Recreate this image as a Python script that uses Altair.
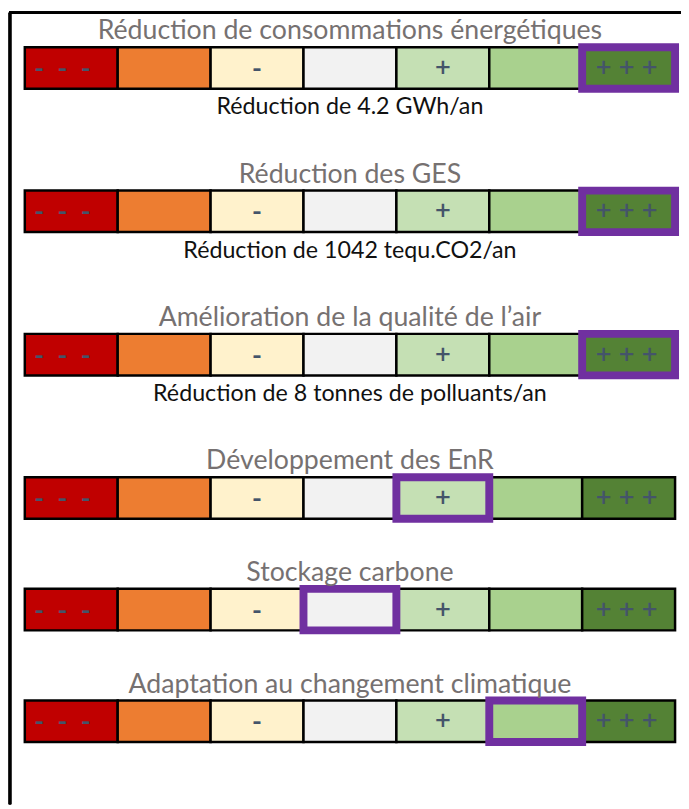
import altair as alt
import pandas as pd

# ---- data ----
criteria = [
    "Réduction de consommations énergétiques",
    "Réduction des GES",
    "Amélioration de la qualité de l’air",
    "Développement des EnR",
    "Stockage carbone",
    "Adaptation au changement climatique",
]
details = [
    "Réduction de 4.2 GWh/an",
    "Réduction de 1042 tequ.CO2/an",
    "Réduction de 8 tonnes de polluants/an",
    "",
    "",
    "",
]
# index of the selected level on the 7-step scale (0 = "- - -", 6 = "+ + +")
selected = [6, 6, 6, 4, 3, 5]
levels = ["- - -", "", "-", "", "+", "", "+ + +"]
level_colors = ["#C00000", "#ED7D31", "#FFF2CC", "#F2F2F2", "#C5E0B4", "#A9D18E", "#548235"]

# ---- layout constants (pixels) ----
FIRST_TOP = 43
BAR_H = 42
GAP_WITH_DETAIL = 145
GAP_NO_DETAIL = 113
CELL_W = 94
LEFT = 25

tops = []
t = FIRST_TOP
for i in range(len(criteria)):
    tops.append(t)
    t += GAP_WITH_DETAIL if details[i] else GAP_NO_DETAIL

cells, boxes, heads = [], [], []
for r, name in enumerate(criteria):
    top = tops[r]
    for i, lab in enumerate(levels):
        sep = "\u00a0\u00a0" if lab.startswith("-") else "\u00a0"
        cells.append({
            "row": name, "x": i, "x2": i + 1, "y": top, "y2": top + BAR_H,
            "ym": top + BAR_H / 2 + 1, "xm": i + 0.5,
            "label": lab.replace(" ", sep), "color": level_colors[i],
        })
    s = selected[r]
    boxes.append({"row": name, "x": s, "x2": s + 1, "y": top, "y2": top + BAR_H})
    heads.append({"row": name, "title": name, "detail": details[r],
                  "xm": 3.5, "ty": top - 8, "dy": top + BAR_H + 26})

cells = pd.DataFrame(cells)
boxes = pd.DataFrame(boxes)
heads = pd.DataFrame(heads)

W, H = 681, 801
xdom = [(8 - LEFT) / CELL_W, (8 + W - LEFT) / CELL_W]
xs = alt.Scale(domain=xdom, nice=False, zero=False)
ys = alt.Scale(domain=[8, 8 + H], reverse=True, nice=False, zero=False)
X = lambda f: alt.X(f, type="quantitative", scale=xs, axis=None)
Y = lambda f: alt.Y(f, type="quantitative", scale=ys, axis=None)

rects = alt.Chart(cells).mark_rect(stroke="black", strokeWidth=2.5).encode(
    x=X("x"), x2="x2", y=Y("y"), y2="y2",
    color=alt.Color("color:N", scale=None),
)

sym = alt.Chart(cells).transform_filter("datum.label != ''").mark_text(
    font="Open Sans", fontSize=28, fontWeight=600, color="#44546A", baseline="middle",
    dx=alt.expr("datum.x == 0 ? -9 : (datum.x == 6 ? -2 : 0)"),
).encode(x=X("xm"), y=Y("ym"), text="label:N")

sel = alt.Chart(boxes).mark_rect(fill=None, fillOpacity=0, stroke="#7030A0", strokeWidth=8).encode(
    x=X("x"), x2="x2", y=Y("y"), y2="y2",
)

titles = alt.Chart(heads).mark_text(
    font="Lato", fontSize=27, fontWeight=400, color="#767171", baseline="alphabetic"
).encode(x=X("xm"), y=Y("ty"), text="title:N")

subs = alt.Chart(heads).transform_filter("datum.detail != ''").mark_text(
    font="Lato", fontSize=23.5, fontWeight=400, color="#111111", baseline="alphabetic"
).encode(x=X("xm"), y=Y("dy"), text="detail:N")

frame_left = alt.Chart(heads).mark_rule(color="black", strokeWidth=2.5).encode(
    x=alt.value(2), y=alt.value(0), y2=alt.value(H)
)
frame_top = alt.Chart(heads).mark_rule(color="black", strokeWidth=2.5).encode(
    x=alt.value(1), x2=alt.value(W), y=alt.value(0)
)

chart = alt.layer(rects, sym, sel, titles, subs, frame_left, frame_top).properties(
    width=W, height=H, padding=0, autosize=alt.AutoSizeParams(type="none"),
).configure_view(stroke=None)

chart.save("out.html", embed_options={"renderer": "svg", "actions": False})
